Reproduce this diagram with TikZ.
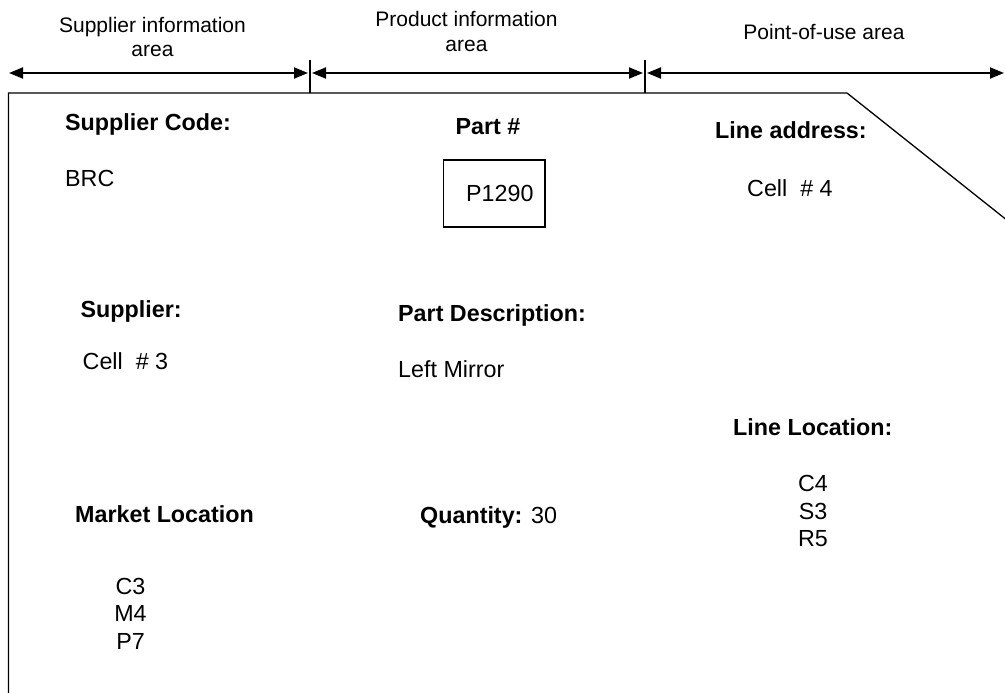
\documentclass[tikz,border=0pt]{standalone}
\usepackage{fontspec}
\setmainfont{Liberation Sans}
\usetikzlibrary{arrows.meta}
\begin{document}
\begin{tikzpicture}[x=1pt,y=-1pt,
  body/.style={inner sep=0pt, font=\fontsize{23.3}{27.5}\selectfont},
  hdr/.style={inner sep=0pt, font=\fontsize{23.3}{27.5}\selectfont\bfseries},
  arealbl/.style={inner sep=0pt, font=\fontsize{21}{24}\selectfont},
  dimline/.style={line width=2pt, {Triangle[length=14pt,width=11pt]}-{Triangle[length=14pt,width=11pt]}},
  cardline/.style={line width=1.3pt},
]
\useasboundingbox (0,0) rectangle (1005,693);

% area labels
\node[arealbl, anchor=base] (sa1) at (152.5,33) {Supplier information};
\node[arealbl, anchor=base] (sa2) at (152.5,57) {area};
\node[arealbl, anchor=base] (pa1) at (466.5,27) {Product information};
\node[arealbl, anchor=base] (pa2) at (466.5,52) {area};
\node[arealbl, anchor=base] (ua) at (824,40) {Point-of-use area};

% dimension arrows
\coordinate (d1a) at (9,73);
\coordinate (d1b) at (308,73);
\coordinate (d2a) at (312,73);
\coordinate (d2b) at (643,73);
\coordinate (d3a) at (647,73);
\coordinate (d3b) at (1004,73);
\draw[dimline] (d1a) -- (d1b);
\draw[dimline] (d2a) -- (d2b);
\draw[dimline] (d3a) -- (d3b);

% ticks
\coordinate (t1a) at (310,60);
\coordinate (t1b) at (310,93);
\coordinate (t2a) at (645,60);
\coordinate (t2b) at (645,93);
\draw[cardline] (t1a) -- (t1b);
\draw[cardline] (t2a) -- (t2b);

% card outline
\coordinate (cbl) at (8.5,694);
\coordinate (ctl) at (8.5,93);
\coordinate (ctr) at (847,93);
\coordinate (cdg) at (1005.5,219);
\draw[cardline] (cbl) -- (ctl) -- (ctr) -- (cdg);

% supplier column
\node[hdr, anchor=base west] (sc) at (65,130) {Supplier Code:};
\node[body, anchor=base west] (brc) at (65,186) {BRC};
\node[hdr, anchor=base west] (sup) at (80.5,317) {Supplier:};
\node[body, anchor=base west] (cell3) at (82.5,369.5) {Cell~~\# 3};
\node[hdr, anchor=base west] (ml) at (75,522.5) {Market Location};
\node[body, anchor=base] (mc3) at (130.5,594) {C3};
\node[body, anchor=base] (mm4) at (130.5,621.5) {M4};
\node[body, anchor=base] (mp7) at (130.5,649.5) {P7};

% product column
\node[hdr, anchor=base] (pn) at (488,135) {Part \#};
\node[draw, line width=1.3pt, minimum width=101.5pt, minimum height=67pt, inner sep=0pt] (pbox) at (494.25,193.5) {};
\node[body, anchor=base west] (pnum) at (466,201.5) {P1290};
\node[hdr, anchor=base west] (pd) at (398,321.5) {Part Description:};
\node[body, anchor=base west] (lm) at (398,377) {Left Mirror};
\node[body, anchor=base west] (qty) at (420,523) {\textbf{Quantity:} 30};

% point-of-use column
\node[hdr, anchor=base west] (la) at (715,139) {Line address:};
\node[body, anchor=base west] (cell4) at (747,196) {Cell~~\# 4};
\node[hdr, anchor=base west] (ll) at (733,435) {Line Location:};
\node[body, anchor=base] (lc4) at (813,491) {C4};
\node[body, anchor=base] (ls3) at (813,519) {S3};
\node[body, anchor=base] (lr5) at (813,546) {R5};
\end{tikzpicture}
\end{document}
